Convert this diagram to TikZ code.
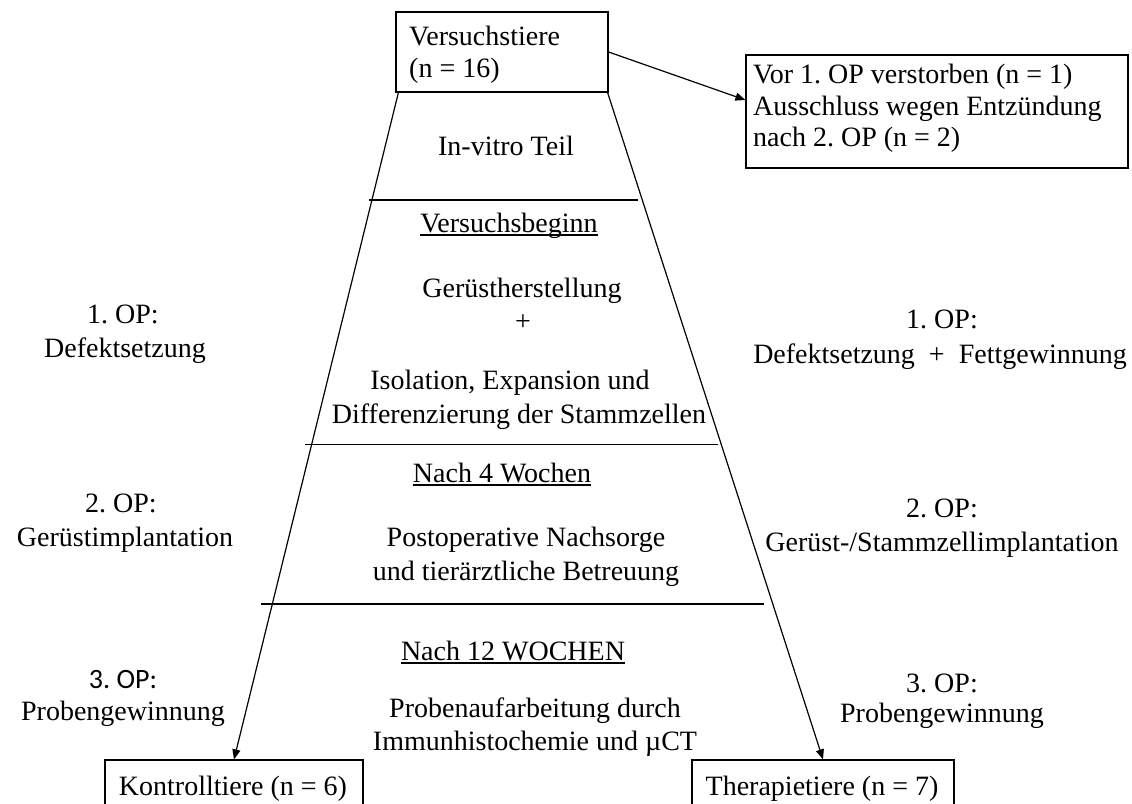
\documentclass[tikz,border=0pt]{standalone}
\usepackage{fontspec}
\setmainfont{Liberation Serif}
\newfontfamily\calibfont{Carlito}
\usetikzlibrary{arrows.meta,calc}
\newcommand\myul[1]{\setbox0\hbox{#1}\rlap{\rule[-3.5pt]{\wd0}{1.2pt}}\box0}
\begin{document}
\frenchspacing
\begin{tikzpicture}[x=1pt,y=-1pt,
  every node/.style={font=\fontsize{28}{33}\selectfont\frenchspacing, inner sep=0pt},
  txt/.style={anchor=base},
  txtl/.style={anchor=base west},
  box/.style={draw, line width=1.2pt, inner sep=0pt},
  conn/.style={line width=1.2pt, -{Triangle[length=10pt,width=8pt]}},
  sepline/.style={line width=1.2pt}]
\useasboundingbox (0,0) rectangle (1132,803);
\clip (0,0) rectangle (1132,803);
\fill[white] (0,0) rectangle (1132,803);

% boxes
\node[box, minimum width=212pt, minimum height=80pt] (top) at (502,52) {};
\node[txtl] (topA) at (409,45) {Versuchstiere};
\node[txtl] (topB) at (409,77) {(n = 16)};

\node[box, minimum width=382pt, minimum height=113pt] (excl) at (937,111.5) {};
\node[txtl] (exA) at (753,83) {Vor 1. OP verstorben (n = 1)};
\node[txtl] (exB) at (753,115) {Ausschluss wegen Entzündung};
\node[txtl] (exC) at (753,146) {nach 2. OP (n = 2)};

\node[box, minimum width=258pt, minimum height=80pt] (ctrl) at (234,800) {};
\node[txt] (ctrlT) at (233,795) {Kontrolltiere (n = 6)};
\node[box, minimum width=262pt, minimum height=80pt] (ther) at (823,800) {};
\node[txt] (therT) at (822,795) {Therapietiere (n = 7)};

% connectors
\draw[conn] (top.east) -- ($(excl.west)+(0,-11.5)$);
\draw[conn] ($(top.south west)+(3,0)$) -- (ctrl.north);
\draw[conn] ($(top.south east)+(-1,0)$) -- (ther.north);

% separators
\draw[sepline] (369,200) -- (638,200);
\draw[sepline] (305,444.5) -- (718,444.5);
\draw[sepline] (261,604) -- (764,604);

% central texts
\node[txt] (c1) at (506,155) {In-vitro Teil};
\node[txt] (c2) at (509,232) {\myul{Versuchsbeginn}};
\node[txt] (c3) at (522,297) {Gerüstherstellung};
\node[txt] (c4) at (523,330) {+};
\node[txt] (c5) at (510,389) {Isolation, Expansion und};
\node[txt] (c6) at (519,423) {Differenzierung der Stammzellen};
\node[txt] (c7) at (502,482) {\myul{Nach 4 Wochen}};
\node[txt] (c8) at (526,546) {Postoperative Nachsorge};
\node[txt] (c9) at (526,580) {und tierärztliche Betreuung};
\node[txt] (c10) at (513,660) {\myul{Nach 12 WOCHEN}};
\node[txt] (c11) at (535,717) {Probenaufarbeitung durch};
\node[txt] (c12) at (535,750) {Immunhistochemie und µCT};

% left labels
\node[txt] (l1) at (123,323) {1. OP:};
\node[txt] (l2) at (125,357) {Defektsetzung};
\node[txt] (l3) at (121,512) {2. OP:};
\node[txt] (l4) at (125,546) {Gerüstimplantation};
\node[txt] (l5) at (123,688) {\calibfont 3. OP:};
\node[txt] (l6) at (123,720) {Probengewinnung};

% right labels
\node[txt] (r1) at (942,328) {1. OP:};
\node[txt] (r2) at (940,363) {Defektsetzung\ \ +\ \ Fettgewinnung};
\node[txt] (r3) at (942,517) {2. OP:};
\node[txt] (r4) at (942,551) {Gerüst-/Stammzellimplantation};
\node[txt] (r5) at (942,692) {3. OP:};
\node[txt] (r6) at (942,722) {Probengewinnung};
\end{tikzpicture}
\end{document}
